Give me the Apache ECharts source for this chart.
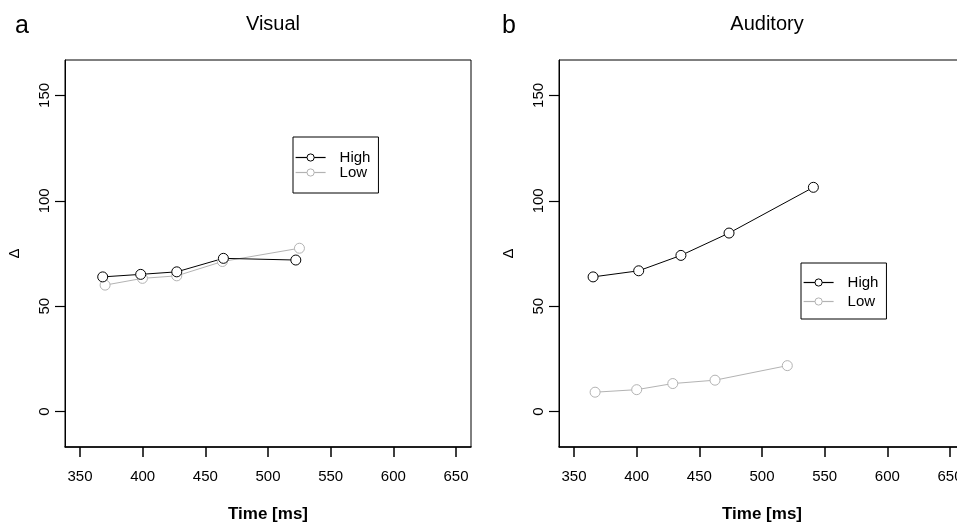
<!DOCTYPE html>
<html>
<head>
<meta charset="utf-8">
<script src="https://cdn.jsdelivr.net/npm/echarts@6/dist/echarts.min.js"></script>
<style>
html,body{margin:0;padding:0;background:#fff;}
#chart{width:957px;height:522px;}
</style>
</head>
<body>
<div id="chart"></div>
<script>
// ---- data ----
const panelTitles = ['Visual', 'Auditory'];
const panelLetters = ['a', 'b'];
const seriesNames = ['High', 'Low'];
const xTicks = [350, 400, 450, 500, 550, 600, 650];
const yTicks = [0, 50, 100, 150];

const timeVisualHigh = [368.1, 398.4, 427.2, 464.4, 522.2];
const deltaVisualHigh = [63.9, 65.1, 66.3, 72.7, 71.9];
const timeVisualLow = [370.0, 399.8, 427.2, 463.6, 525.1];
const deltaVisualLow = [60.0, 63.2, 64.4, 71.2, 77.5];

const timeAuditoryHigh = [365.2, 401.6, 435.3, 473.7, 541.0];
const deltaAuditoryHigh = [63.9, 66.8, 74.1, 84.7, 106.4];
const timeAuditoryLow = [366.8, 400.0, 428.8, 462.5, 520.2];
const deltaAuditoryLow = [9.2, 10.4, 13.3, 14.9, 21.8];

const xLimits = [338, 662];
const yLimits = [-16.8, 166.8];

// ---- helpers ----
function pairs(xs, ys) { return xs.map((x, i) => [x, ys[i]]); }
const FONT = 'Liberation Sans, Arial, Helvetica, sans-serif';
const BLACK = '#000000';
const GREY = '#b3b3b3';

function makeX(gridIndex) {
  return {
    type: 'value', gridIndex: gridIndex, min: xLimits[0], max: xLimits[1],
    name: 'Time [ms]', nameLocation: 'middle', nameGap: 59,
    nameTextStyle: { fontFamily: FONT, fontSize: 17, fontWeight: 'bold', color: BLACK },
    axisLine: { show: true, onZero: false, lineStyle: { color: BLACK, width: 1.5 } },
    axisTick: { show: true, length: 10, customValues: xTicks, lineStyle: { color: BLACK, width: 1.5 } },
    axisLabel: { customValues: xTicks, margin: 22, fontFamily: FONT, fontSize: 15, color: BLACK, hideOverlap: false },
    splitLine: { show: false }
  };
}
function makeY(gridIndex) {
  return {
    type: 'value', gridIndex: gridIndex, min: yLimits[0], max: yLimits[1],
    name: 'Δ', nameLocation: 'middle', nameGap: 43, nameRotate: 90,
    nameTextStyle: { fontFamily: FONT, fontSize: 15, color: BLACK },
    axisLine: { show: true, onZero: false, lineStyle: { color: BLACK, width: 1 } },
    axisTick: { show: true, length: 10, customValues: yTicks, lineStyle: { color: BLACK, width: 1.2 } },
    axisLabel: { customValues: yTicks, rotate: 90, margin: 13, fontFamily: FONT, fontSize: 15, color: BLACK },
    splitLine: { show: false }
  };
}
function makeSeries(name, xs, ys, idx, color) {
  return {
    name: name, type: 'line', xAxisIndex: idx, yAxisIndex: idx,
    data: pairs(xs, ys),
    symbol: 'circle', symbolSize: 10, showSymbol: true,
    lineStyle: { color: color, width: 1 },
    itemStyle: { color: '#ffffff', borderColor: color, borderWidth: 1 },
    emphasis: { disabled: true },
    animation: false
  };
}
function makeLegend(left, top, gap, padding) {
  return {
    data: seriesNames, orient: 'vertical', left: left, top: top,
    itemWidth: 30, itemHeight: 9, itemGap: gap, padding: padding,
    borderColor: BLACK, borderWidth: 1, backgroundColor: '#fff',
    itemStyle: { borderWidth: 1 },
    lineStyle: { width: 1.2 },
    textStyle: { fontFamily: FONT, fontSize: 15, color: BLACK, lineHeight: 15, padding: [0, 0, 0, 9] },
    selectedMode: false
  };
}

const chart = echarts.init(document.getElementById('chart'), null, { renderer: 'canvas' });
chart.setOption({
  backgroundColor: '#ffffff',
  animation: false,
  title: [
    { text: panelLetters[0], left: 10, top: 9, textStyle: { fontFamily: FONT, fontSize: 25, fontWeight: 'normal', color: BLACK } },
    { text: panelTitles[0], left: 268, top: 9, textAlign: 'center', textStyle: { fontFamily: FONT, fontSize: 20, fontWeight: 'normal', color: BLACK } },
    { text: panelLetters[1], left: 497, top: 9, textStyle: { fontFamily: FONT, fontSize: 25, fontWeight: 'normal', color: BLACK } },
    { text: panelTitles[1], left: 762, top: 9, textAlign: 'center', textStyle: { fontFamily: FONT, fontSize: 20, fontWeight: 'normal', color: BLACK } }
  ],
  legend: [
    makeLegend(293, 137, 0, [13, 8, 13, 2]),
    makeLegend(801, 263, 4, [12, 8, 10, 2])
  ],
  grid: [
    { left: 65, top: 60, width: 406, height: 387, show: true, borderColor: BLACK, borderWidth: 1, containLabel: false, outerBoundsMode: 'none' },
    { left: 559, top: 60, width: 406, height: 387, show: true, borderColor: BLACK, borderWidth: 1, containLabel: false, outerBoundsMode: 'none' }
  ],
  xAxis: [makeX(0), makeX(1)],
  yAxis: [makeY(0), makeY(1)],
  series: [
    makeSeries(seriesNames[1], timeVisualLow, deltaVisualLow, 0, GREY),
    makeSeries(seriesNames[0], timeVisualHigh, deltaVisualHigh, 0, BLACK),
    makeSeries(seriesNames[1], timeAuditoryLow, deltaAuditoryLow, 1, GREY),
    makeSeries(seriesNames[0], timeAuditoryHigh, deltaAuditoryHigh, 1, BLACK)
  ]
});
</script>
</body>
</html>
